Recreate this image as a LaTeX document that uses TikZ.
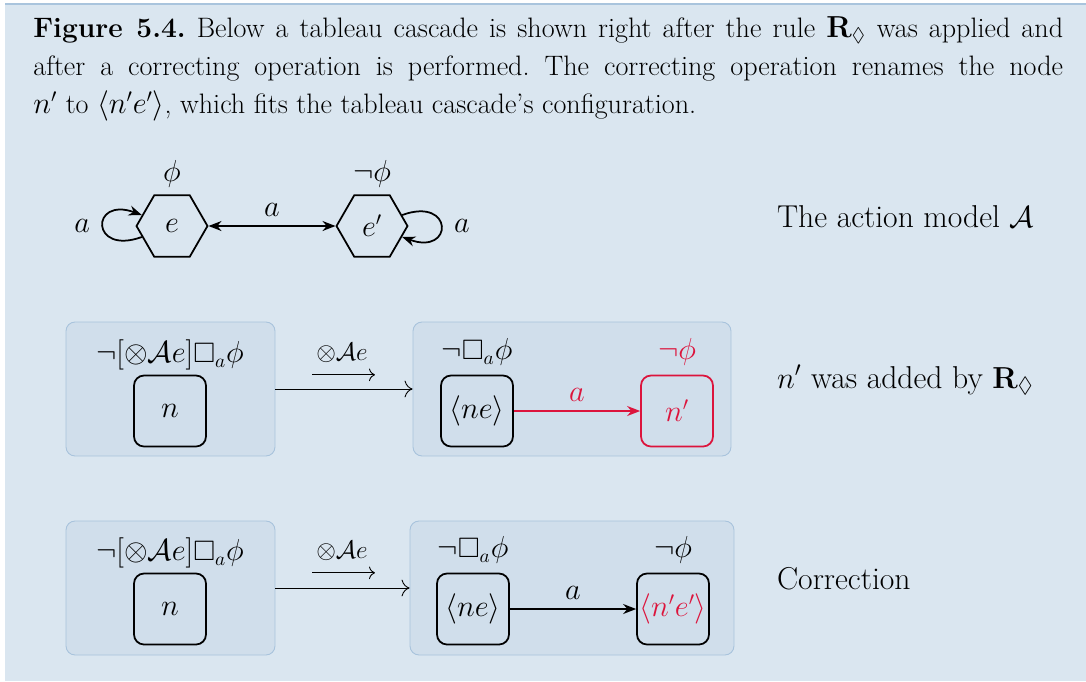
\documentclass[tikz,border=0pt]{standalone}
\usepackage{amsmath}
\usepackage{amssymb}
\usetikzlibrary{shapes.geometric,arrows.meta}

\definecolor{figback}{HTML}{DAE6F0}
\definecolor{figline}{HTML}{A9C4DD}
\definecolor{casfill}{HTML}{D0DEEB}
\definecolor{casline}{HTML}{A8C3DC}
\definecolor{newred}{RGB}{220,20,60}

\tikzset{
  event/.style={draw, line width=1pt, regular polygon, regular polygon sides=6,
    minimum size=1.42cm, inner sep=0pt},
  world/.style={draw, line width=1pt, rounded corners=0.2cm,
    minimum width=1.44cm, minimum height=1.42cm, inner sep=2pt},
  cascade/.style={draw=casline, fill=casfill, line width=0.5pt, rounded corners=0.18cm,
    minimum height=2.68cm},
  relarrow/.style={-{Stealth[length=2.6mm,width=2mm]}, line width=1pt},
  casarrow/.style={-{To[length=1.6mm]}, line width=0.5pt},
  lbl/.style={font=\fontsize{16}{19}\selectfont, inner sep=1pt},
  side/.style={font=\fontsize{18}{21}\selectfont, inner sep=1pt, anchor=base west},
  small/.style={font=\fontsize{13.5}{15}\selectfont, inner sep=1pt}
}

\begin{document}
\begin{tikzpicture}[x=0.02cm, y=-0.02cm]
    \useasboundingbox (0,0) rectangle (1086,681);

    % Caption box
    \fill[figback] (5,4) rectangle (1086,681);
    \draw[figline, line width=0.7pt] (5,4) -- (1086,4);
    \node[anchor=north west, inner sep=0pt, text width=20.6cm, align=justify,
      font=\fontsize{16}{21.6}\selectfont] (caption) at (33,16) {\frenchspacing
      \textbf{Figure 5.4.} Below a tableau cascade is shown right after the rule
      $\mathbf{R}_\Diamond$ was applied and\linebreak after a correcting operation is
      performed. The correcting operation renames the node\linebreak $n'$ to
      $\langle n'e'\rangle$, which fits the tableau cascade's configuration.};

    % Action model
    \node[event, lbl] (e) at (172,226) {$e$};
    \node[event, lbl] (e2) at (372,226) {$e'$};
    \node[lbl] (pe) at (172,174) {$\phi$};
    \node[lbl] (pe2) at (372,174) {$\neg\phi$};
    \draw[relarrow, {Stealth[length=2.6mm,width=2mm]}-{Stealth[length=2.6mm,width=2mm]}]
      (e) -- node[lbl, above, inner sep=5pt] {$a$} (e2);
    \draw[relarrow] (e) to[out=200, in=160, distance=1.1cm] node[lbl, left, inner sep=7pt] {$a$} (e);
    \draw[relarrow] (e2) to[out=20, in=-20, distance=1.1cm] node[lbl, right, inner sep=7pt] {$a$} (e2);
    \node[side] (amodel) at (775,227) {The action model $\mathcal{A}$};

    % Cascade after R_diamond
    \node[cascade, minimum width=4.18cm] (c1) at (170.5,389) {};
    \node[cascade, minimum width=6.36cm] (c2) at (572,389) {};
    \node[world, lbl] (n) at (170,411) {$n$};
    \node[lbl] (f1) at (170,355) {$\neg[\otimes\mathcal{A}e]\square_a\phi$};
    \node[world, lbl] (ne) at (477,411) {$\langle ne\rangle$};
    \node[lbl] (f2) at (477,352) {$\neg\square_a\phi$};
    \node[world, lbl, draw=newred, text=newred] (nn) at (677,411) {$n'$};
    \node[lbl, text=newred] (f3) at (677,352) {$\neg\phi$};
    \draw[casarrow] (c1) -- (c2);
    \node[small] (t1) at (342,353) {$\otimes\mathcal{A}e$};
    \draw[-{To[length=1.2mm]}, line width=0.5pt]
      ([xshift=-0.6cm,yshift=-0.2cm]t1.south) -- ([xshift=0.66cm,yshift=-0.2cm]t1.south);
    \draw[relarrow, newred] (ne) -- node[lbl, above, inner sep=5pt] {$a$} (nn);
    \node[side] (added) at (775,388) {$n'$ was added by $\mathbf{R}_\Diamond$};

    % Cascade after correction
    \node[cascade, minimum width=4.18cm] (d1) at (170.5,588) {};
    \node[cascade, minimum width=6.48cm] (d2) at (572,588) {};
    \node[world, lbl] (m) at (170,609) {$n$};
    \node[lbl] (g1) at (170,553) {$\neg[\otimes\mathcal{A}e]\square_a\phi$};
    \node[world, lbl] (me) at (473,609) {$\langle ne\rangle$};
    \node[lbl] (g2) at (473,550) {$\neg\square_a\phi$};
    \node[world, lbl] (mm) at (673,609) {\color{newred}$\langle n'e'\rangle$};
    \node[lbl] (g3) at (673,550) {$\neg\phi$};
    \draw[casarrow] (d1) -- (d2);
    \node[small] (t2) at (342,551) {$\otimes\mathcal{A}e$};
    \draw[-{To[length=1.2mm]}, line width=0.5pt]
      ([xshift=-0.6cm,yshift=-0.2cm]t2.south) -- ([xshift=0.66cm,yshift=-0.2cm]t2.south);
    \draw[relarrow] (me) -- node[lbl, above, inner sep=5pt] {$a$} (mm);
    \node[side] (correct) at (775,589) {Correction};
\end{tikzpicture}
\end{document}
